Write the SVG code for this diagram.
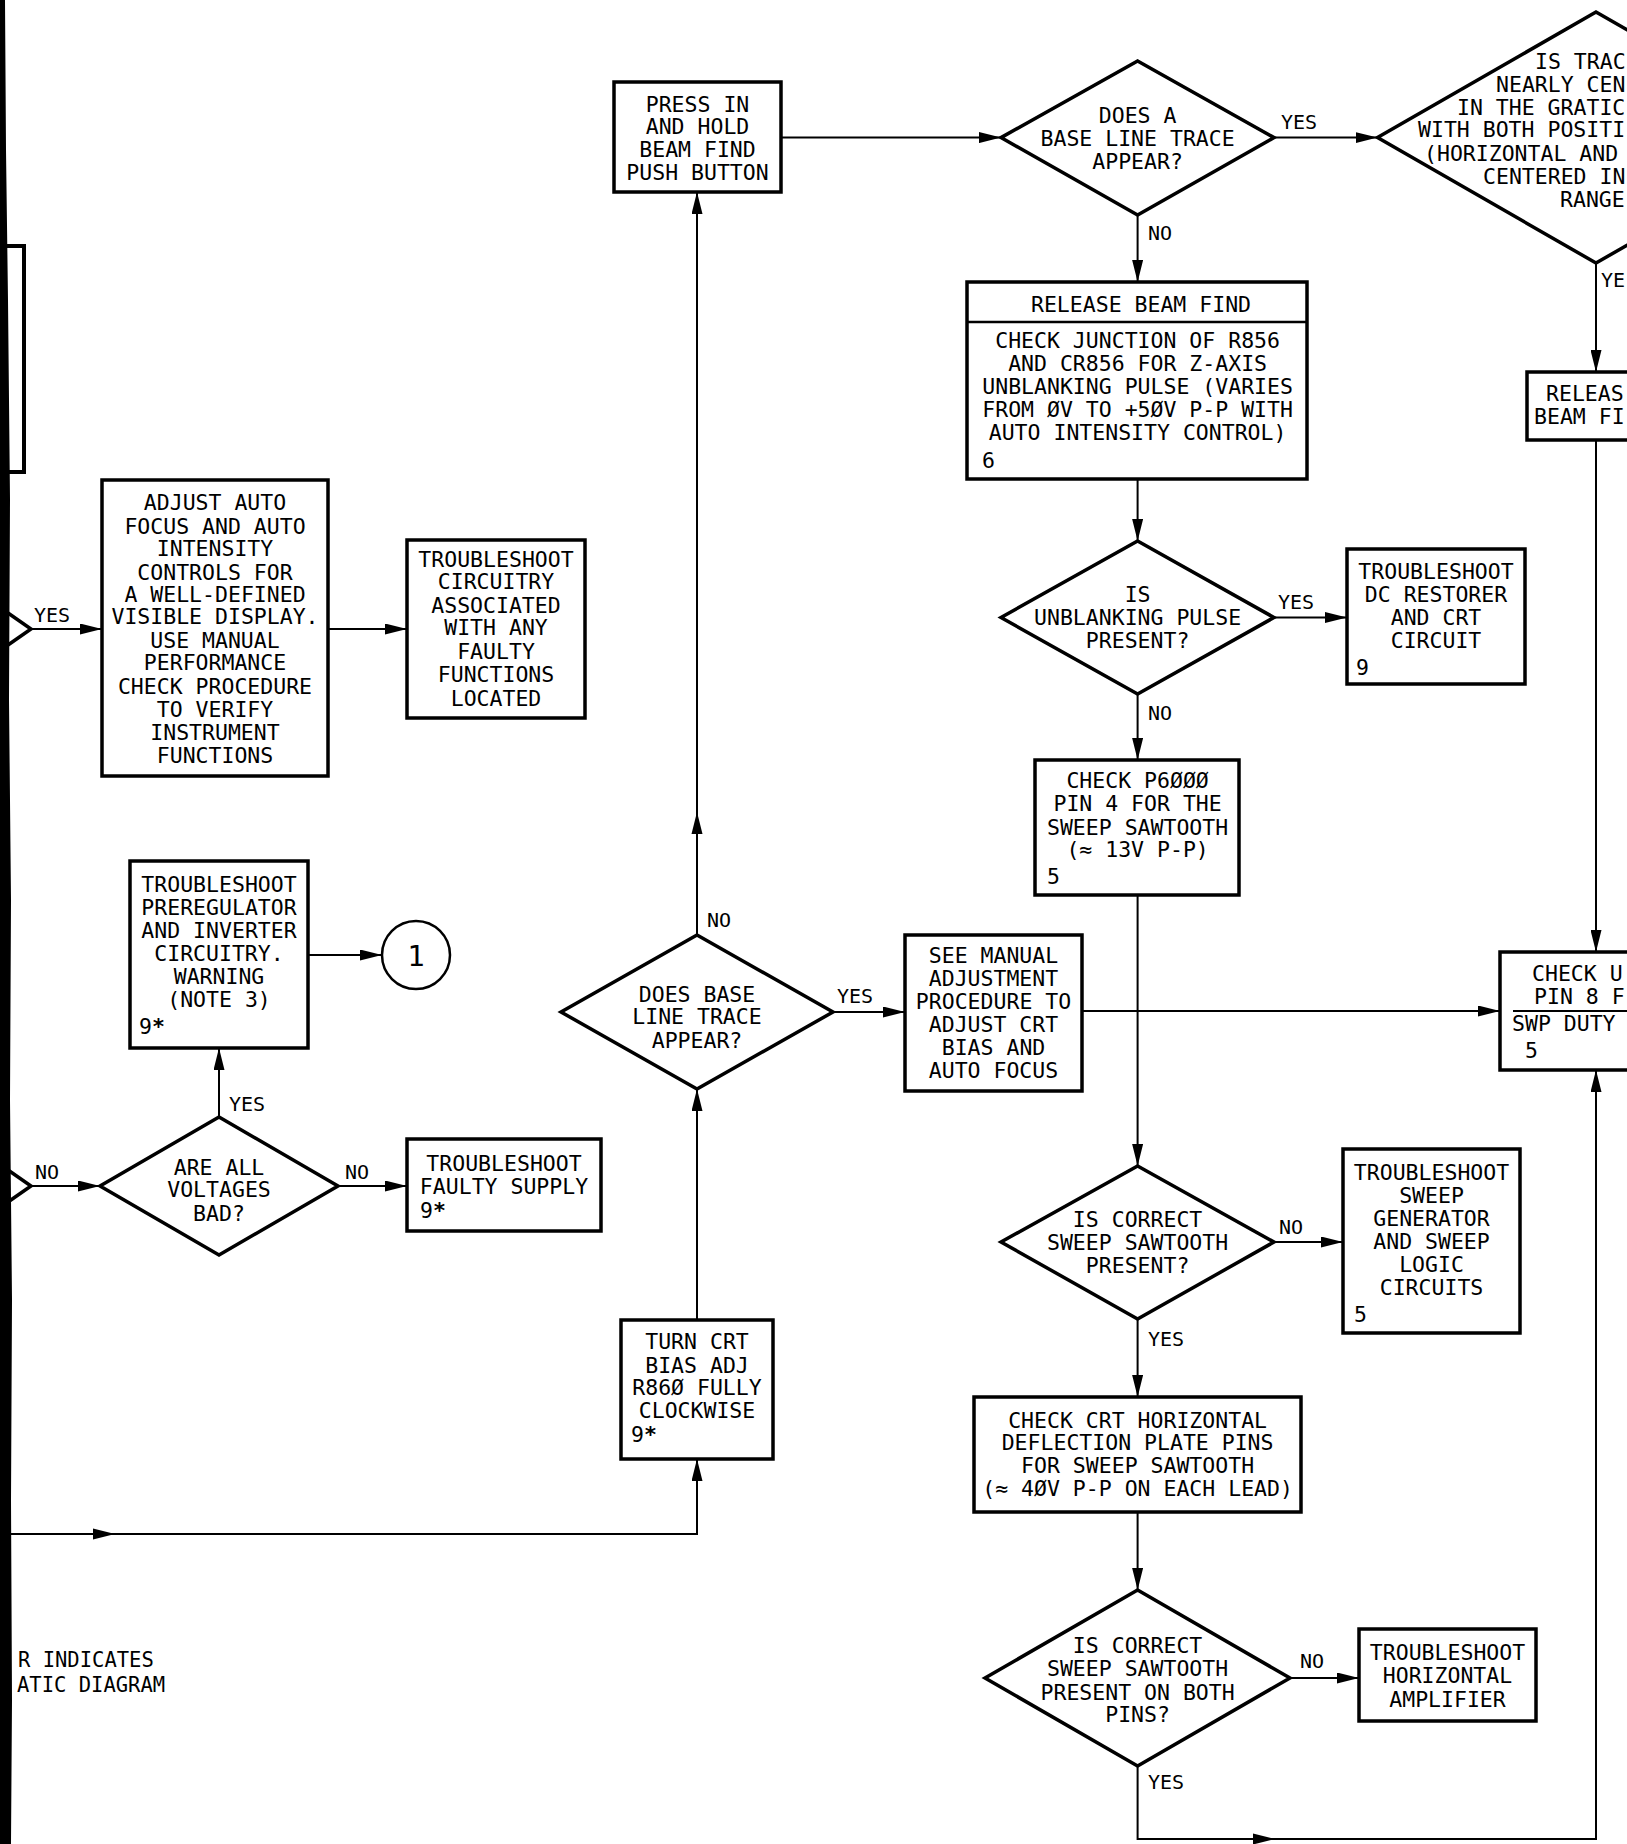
<svg xmlns="http://www.w3.org/2000/svg" width="1627" height="1844" viewBox="0 0 1627 1844">
<style>
.bx{fill:#fff;stroke:#000;stroke-width:3.5}
.dm{fill:#fff;stroke:#000;stroke-width:3.5;stroke-linejoin:miter}
.ln{fill:none;stroke:#000;stroke-width:2}
.ar{fill:none;stroke:#000;stroke-width:2;marker-end:url(#ah)}
text{font-family:"DejaVu Sans Mono","Liberation Mono",monospace;font-size:21.5px;fill:#000}
.c{text-anchor:middle}
.lb{font-size:20px}
</style>
<defs>
<marker id="ah" markerWidth="22" markerHeight="11" refX="22" refY="5.5" orient="auto" markerUnits="userSpaceOnUse"><path d="M0,0 L22,5.5 L0,11 z" fill="#000"/></marker>
</defs>
<rect width="1627" height="1844" fill="#fff"/>

<g id="connectors">
<path class="ar" d="M781,137.6 H1001"/>
<path class="ar" d="M1274,137.6 H1377.5"/>
<path class="ar" d="M1137.6,215 V282"/>
<path class="ar" d="M1596,263 V372"/>
<path class="ar" d="M1596,440 V952"/>
<path class="ar" d="M1137.6,479 V541"/>
<path class="ar" d="M1274,617.5 H1347"/>
<path class="ar" d="M1137.6,694 V760"/>
<path class="ar" d="M1137.6,895 V1166"/>
<path class="ar" d="M1274,1242 H1343"/>
<path class="ar" d="M1137.6,1319 V1397"/>
<path class="ar" d="M1137.6,1512 V1590"/>
<path class="ar" d="M1290,1678 H1359"/>
<path class="ar" d="M1137.6,1766 V1839 H1596 V1070"/>
<polygon points="1253,1833.5 1275,1839 1253,1844.5" fill="#000"/>
<path class="ar" d="M697,935 V192"/>
<polygon points="691.5,834 697,812 702.5,834" fill="#000"/>
<path class="ar" d="M833,1012 H905"/>
<path class="ar" d="M1082,1011 H1500"/>
<path class="ar" d="M697,1320 V1089"/>
<path class="ar" d="M8,1534 H697 V1459"/>
<polygon points="93,1528.5 115,1534 93,1539.5" fill="#000"/>
<path class="ar" d="M31,629 H102"/>
<path class="ar" d="M328,629 H407"/>
<path class="ar" d="M308,955 H382"/>
<path class="ar" d="M219,1117 V1048"/>
<path class="ar" d="M338,1186 H407"/>
<path class="ar" d="M31,1186 H100"/>
</g>

<g id="labels">
<text class="lb" x="1281" y="129">YES</text>
<text class="lb" x="1148" y="240">NO</text>
<text class="lb" x="1601" y="287">YE</text>
<text class="lb" x="1278" y="609">YES</text>
<text class="lb" x="1148" y="720">NO</text>
<text class="lb" x="1279" y="1234">NO</text>
<text class="lb" x="1148" y="1346">YES</text>
<text class="lb" x="1300" y="1668">NO</text>
<text class="lb" x="1148" y="1789">YES</text>
<text class="lb" x="707" y="927">NO</text>
<text class="lb" x="837" y="1003">YES</text>
<text class="lb" x="229" y="1111">YES</text>
<text class="lb" x="345" y="1179">NO</text>
<text class="lb" x="35" y="1179">NO</text>
<text class="lb" x="34" y="622">YES</text>
</g>

<g id="press-beam-find">
<rect class="bx" x="614" y="82" width="167" height="110"/>
<text class="c" x="697.5" y="111.5">PRESS IN</text>
<text class="c" x="697.5" y="134">AND HOLD</text>
<text class="c" x="697.5" y="157">BEAM FIND</text>
<text class="c" x="697.5" y="180">PUSH BUTTON</text>
</g>

<g id="does-a-base-line">
<polygon class="dm" points="1137.6,61 1274,137.6 1137.6,215 1001,137.6"/>
<text class="c" x="1137.6" y="123">DOES A</text>
<text class="c" x="1137.6" y="146">BASE LINE TRACE</text>
<text class="c" x="1137.6" y="169">APPEAR?</text>
</g>

<g id="is-trace-centered">
<polygon class="dm" points="1596,12 1815,137.6 1596,263 1377.5,137.6"/>
<text x="1535" y="69">IS TRAC</text>
<text x="1496" y="92">NEARLY CEN</text>
<text x="1457" y="115">IN THE GRATIC</text>
<text x="1418" y="137">WITH BOTH POSITI</text>
<text x="1424" y="161">(HORIZONTAL AND</text>
<text x="1483" y="184">CENTERED IN</text>
<text x="1560" y="207">RANGE</text>
</g>

<g id="release-beam-find-right">
<rect class="bx" x="1527" y="372" width="140" height="68"/>
<text x="1546" y="401">RELEAS</text>
<text x="1534" y="424">BEAM FI</text>
</g>

<g id="check-u-pin8">
<rect class="bx" x="1500" y="952" width="160" height="118"/>
<text x="1532" y="981">CHECK U</text>
<text x="1534" y="1004">PIN 8 F</text>
<line x1="1513" y1="1011" x2="1627" y2="1011" stroke="#000" stroke-width="2"/>
<text x="1512" y="1031">SWP DUTY</text>
<text x="1525" y="1058">5</text>
</g>

<g id="release-check-junction">
<rect class="bx" x="967" y="282" width="340" height="197"/>
<line x1="967" y1="322" x2="1307" y2="322" stroke="#000" stroke-width="2.5"/>
<text class="c" x="1141" y="311.5">RELEASE BEAM FIND</text>
<text class="c" x="1137.6" y="348">CHECK JUNCTION OF R856</text>
<text class="c" x="1137.6" y="371">AND CR856 FOR Z-AXIS</text>
<text class="c" x="1137.6" y="394">UNBLANKING PULSE (VARIES</text>
<text class="c" x="1137.6" y="417">FROM ØV TO +5ØV P-P WITH</text>
<text class="c" x="1137.6" y="440">AUTO INTENSITY CONTROL)</text>
<text x="982" y="468">6</text>
</g>

<g id="is-unblanking">
<polygon class="dm" points="1137.6,541 1274,617.5 1137.6,694 1001,617.5"/>
<text class="c" x="1137.6" y="602">IS</text>
<text class="c" x="1137.6" y="624.5">UNBLANKING PULSE</text>
<text class="c" x="1137.6" y="648">PRESENT?</text>
</g>

<g id="ts-dc-restorer">
<rect class="bx" x="1347" y="549" width="178" height="135"/>
<text class="c" x="1436" y="579">TROUBLESHOOT</text>
<text class="c" x="1436" y="602">DC RESTORER</text>
<text class="c" x="1436" y="624.5">AND CRT</text>
<text class="c" x="1436" y="648">CIRCUIT</text>
<text x="1356" y="675">9</text>
</g>

<g id="check-p6000">
<rect class="bx" x="1035" y="760" width="204" height="135"/>
<text class="c" x="1137.6" y="788">CHECK P6ØØØ</text>
<text class="c" x="1137.6" y="811">PIN 4 FOR THE</text>
<text class="c" x="1137.6" y="835">SWEEP SAWTOOTH</text>
<text class="c" x="1137.6" y="857">(≈ 13V P-P)</text>
<text x="1047" y="884">5</text>
</g>

<g id="is-correct-sweep">
<polygon class="dm" points="1137.6,1166 1274,1242 1137.6,1319 1001,1242"/>
<text class="c" x="1137.6" y="1227">IS CORRECT</text>
<text class="c" x="1137.6" y="1250">SWEEP SAWTOOTH</text>
<text class="c" x="1137.6" y="1273">PRESENT?</text>
</g>

<g id="ts-sweep-gen">
<rect class="bx" x="1343" y="1149" width="177" height="184"/>
<text class="c" x="1431.5" y="1180">TROUBLESHOOT</text>
<text class="c" x="1431.5" y="1203">SWEEP</text>
<text class="c" x="1431.5" y="1226">GENERATOR</text>
<text class="c" x="1431.5" y="1249">AND SWEEP</text>
<text class="c" x="1431.5" y="1272">LOGIC</text>
<text class="c" x="1431.5" y="1295">CIRCUITS</text>
<text x="1354" y="1322">5</text>
</g>

<g id="check-crt-horizontal">
<rect class="bx" x="974" y="1397" width="327" height="115"/>
<text class="c" x="1137.6" y="1428">CHECK CRT HORIZONTAL</text>
<text class="c" x="1137.6" y="1450">DEFLECTION PLATE PINS</text>
<text class="c" x="1137.6" y="1473">FOR SWEEP SAWTOOTH</text>
<text class="c" x="1137.6" y="1496">(≈ 4ØV P-P ON EACH LEAD)</text>
</g>

<g id="is-correct-both-pins">
<polygon class="dm" points="1137.6,1590 1290,1678 1137.6,1766 985,1678"/>
<text class="c" x="1137.6" y="1653">IS CORRECT</text>
<text class="c" x="1137.6" y="1676">SWEEP SAWTOOTH</text>
<text class="c" x="1137.6" y="1700">PRESENT ON BOTH</text>
<text class="c" x="1137.6" y="1722">PINS?</text>
</g>

<g id="ts-horizontal-amp">
<rect class="bx" x="1359" y="1629" width="177" height="92"/>
<text class="c" x="1447.5" y="1660">TROUBLESHOOT</text>
<text class="c" x="1447.5" y="1683">HORIZONTAL</text>
<text class="c" x="1447.5" y="1707">AMPLIFIER</text>
</g>

<g id="does-base-line">
<polygon class="dm" points="697,935 833,1012 697,1089 561,1012"/>
<text class="c" x="697" y="1002">DOES BASE</text>
<text class="c" x="697" y="1024">LINE TRACE</text>
<text class="c" x="697" y="1048">APPEAR?</text>
</g>

<g id="see-manual">
<rect class="bx" x="905" y="935" width="177" height="156"/>
<text class="c" x="993.5" y="963">SEE MANUAL</text>
<text class="c" x="993.5" y="986">ADJUSTMENT</text>
<text class="c" x="993.5" y="1009">PROCEDURE TO</text>
<text class="c" x="993.5" y="1032">ADJUST CRT</text>
<text class="c" x="993.5" y="1055">BIAS AND</text>
<text class="c" x="993.5" y="1078">AUTO FOCUS</text>
</g>

<g id="turn-crt-bias">
<rect class="bx" x="621" y="1320" width="152" height="139"/>
<text class="c" x="697" y="1349">TURN CRT</text>
<text class="c" x="697" y="1373">BIAS ADJ</text>
<text class="c" x="697" y="1395">R86Ø FULLY</text>
<text class="c" x="697" y="1418">CLOCKWISE</text>
<text x="631" y="1442">9<tspan font-weight="bold">*</tspan></text>
</g>

<g id="adjust-auto-focus">
<rect class="bx" x="102" y="480" width="226" height="296"/>
<text class="c" x="215" y="510">ADJUST AUTO</text>
<text class="c" x="215" y="534">FOCUS AND AUTO</text>
<text class="c" x="215" y="556">INTENSITY</text>
<text class="c" x="215" y="580">CONTROLS FOR</text>
<text class="c" x="215" y="602">A WELL-DEFINED</text>
<text class="c" x="215" y="624">VISIBLE DISPLAY.</text>
<text class="c" x="215" y="648">USE MANUAL</text>
<text class="c" x="215" y="670">PERFORMANCE</text>
<text class="c" x="215" y="694">CHECK PROCEDURE</text>
<text class="c" x="215" y="717">TO VERIFY</text>
<text class="c" x="215" y="740">INSTRUMENT</text>
<text class="c" x="215" y="763">FUNCTIONS</text>
</g>

<g id="ts-circuitry">
<rect class="bx" x="407" y="540" width="178" height="178"/>
<text class="c" x="496" y="567">TROUBLESHOOT</text>
<text class="c" x="496" y="589">CIRCUITRY</text>
<text class="c" x="496" y="613">ASSOCIATED</text>
<text class="c" x="496" y="635">WITH ANY</text>
<text class="c" x="496" y="659">FAULTY</text>
<text class="c" x="496" y="682">FUNCTIONS</text>
<text class="c" x="496" y="706">LOCATED</text>
</g>

<g id="ts-preregulator">
<rect class="bx" x="130" y="861" width="178" height="187"/>
<text class="c" x="219" y="892">TROUBLESHOOT</text>
<text class="c" x="219" y="915">PREREGULATOR</text>
<text class="c" x="219" y="938">AND INVERTER</text>
<text class="c" x="219" y="961">CIRCUITRY.</text>
<text class="c" x="219" y="984">WARNING</text>
<text class="c" x="219" y="1007">(NOTE 3)</text>
<text x="139" y="1034">9<tspan font-weight="bold">*</tspan></text>
</g>

<g id="connector-1">
<circle cx="416" cy="955" r="34" fill="#fff" stroke="#000" stroke-width="2.5"/>
<text class="c" x="416" y="966" style="font-size:29px">1</text>
</g>

<g id="are-all-voltages-bad">
<polygon class="dm" points="219,1117 338,1186 219,1255 100,1186"/>
<text class="c" x="219" y="1175">ARE ALL</text>
<text class="c" x="219" y="1197">VOLTAGES</text>
<text class="c" x="219" y="1221">BAD?</text>
</g>

<g id="ts-faulty-supply">
<rect class="bx" x="407" y="1139" width="194" height="92"/>
<text class="c" x="504" y="1171">TROUBLESHOOT</text>
<text class="c" x="504" y="1194">FAULTY SUPPLY</text>
<text x="420" y="1218">9<tspan font-weight="bold">*</tspan></text>
</g>

<g id="note">
<text x="18" y="1667" style="font-size:20.5px">R INDICATES</text>
<text x="17" y="1692" style="font-size:20.5px">ATIC DIAGRAM</text>
</g>

<g id="page-edge">
<polyline points="8,613 31,629 8,645" fill="#fff" stroke="#000" stroke-width="3.5"/>
<polyline points="8,1170 31,1186 8,1202" fill="#fff" stroke="#000" stroke-width="3.5"/>
<path d="M5,246 H24 V472 H5" fill="none" stroke="#000" stroke-width="4"/>
<polygon points="0,0 5,0 6,150 8,300 10,500 9,700 11,900 10,1100 12,1300 11,1500 12,1700 11,1844 0,1844" fill="#000"/>
</g>
</svg>
